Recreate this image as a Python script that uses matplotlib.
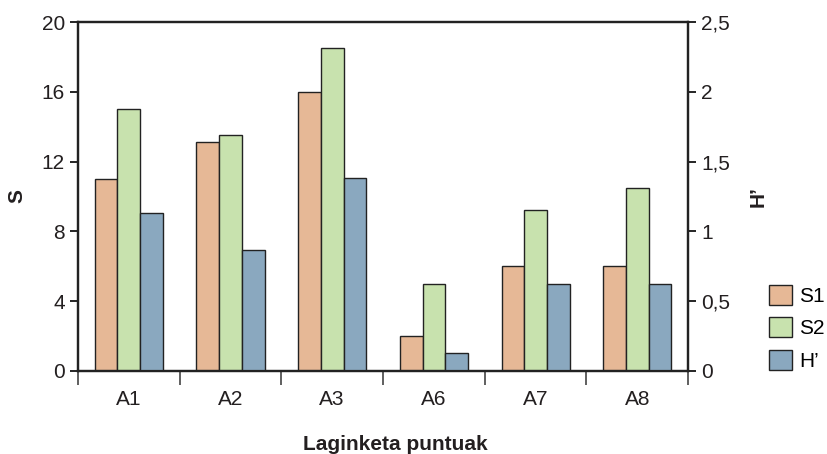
import matplotlib.pyplot as plt
import numpy as np

plt.rcParams['font.family'] = ['Liberation Sans', 'DejaVu Sans']

sites = ['A1', 'A2', 'A3', 'A6', 'A7', 'A8']
s1 = [11, 13.1, 16, 2, 6, 6]
s2 = [15, 13.5, 18.5, 5, 9.2, 10.5]
h_prime = [1.13, 0.87, 1.38, 0.13, 0.62, 0.62]

c_s1 = '#e6b896'
c_s2 = '#c8e2ae'
c_h = '#8aa8bf'
txt = '#231f20'
fs = 15

fig = plt.figure(figsize=(8.27, 4.54), dpi=100)
ax = fig.add_axes([0.0943, 0.183, 0.7377, 0.7685])
ax2 = ax.twinx()

x = np.arange(len(sites))
w = 0.223
ax.bar(x - w, s1, w, color=c_s1, edgecolor='#222222', linewidth=1, label='S1')
ax.bar(x, s2, w, color=c_s2, edgecolor='#222222', linewidth=1, label='S2')
ax2.bar(x + w, h_prime, w, color=c_h, edgecolor='#222222', linewidth=1, label='H\u2019')

ax.set_xlim(-0.5, len(sites) - 0.5)
ax.set_ylim(0, 20)
ax2.set_ylim(0, 2.5)
ax.set_yticks(np.arange(0, 21, 4))
ax2.set_yticks(np.arange(0, 2.51, 0.5))
ax2.set_yticklabels(['0', '0,5', '1', '1,5', '2', '2,5'])

ax.set_xticks(x)
ax.set_xticklabels(sites)
ax.set_xticks(np.arange(-0.5, len(sites), 1), minor=True)
ax.tick_params(axis='x', which='major', length=0, pad=14, labelsize=fs, labelcolor=txt)
ax.tick_params(axis='x', which='minor', length=10, width=1.2, color='#444444')
ax.tick_params(axis='y', length=6, width=1.2, labelsize=fs, labelcolor=txt)
ax2.tick_params(axis='y', length=6, width=1.2, labelsize=fs, labelcolor=txt)

for a in (ax, ax2):
    for sp in a.spines.values():
        sp.set_linewidth(1.6)
        sp.set_color('#222222')

ax.set_ylabel('S', fontsize=fs, fontweight='bold', color=txt)
ax.yaxis.set_label_coords(-0.085, 0.5)
ax2.set_ylabel('H\u2019', fontsize=fs, fontweight='bold', color=txt, rotation=90)
ax2.yaxis.set_label_coords(1.1, 0.5)
ax.set_xlabel('Laginketa puntuak', fontsize=fs, fontweight='bold', color=txt)
ax.xaxis.set_label_coords(0.52, -0.185)

h1, l1 = ax.get_legend_handles_labels()
h2, l2 = ax2.get_legend_handles_labels()
fig.legend(h1 + h2, l1 + l2, loc='lower left', bbox_to_anchor=(0.93, 0.183),
           frameon=False, fontsize=fs, handlelength=1.1, handleheight=1.1,
           handletextpad=0.35, labelspacing=0.55, borderaxespad=0, borderpad=0)

fig.savefig('out.png', dpi=100)
